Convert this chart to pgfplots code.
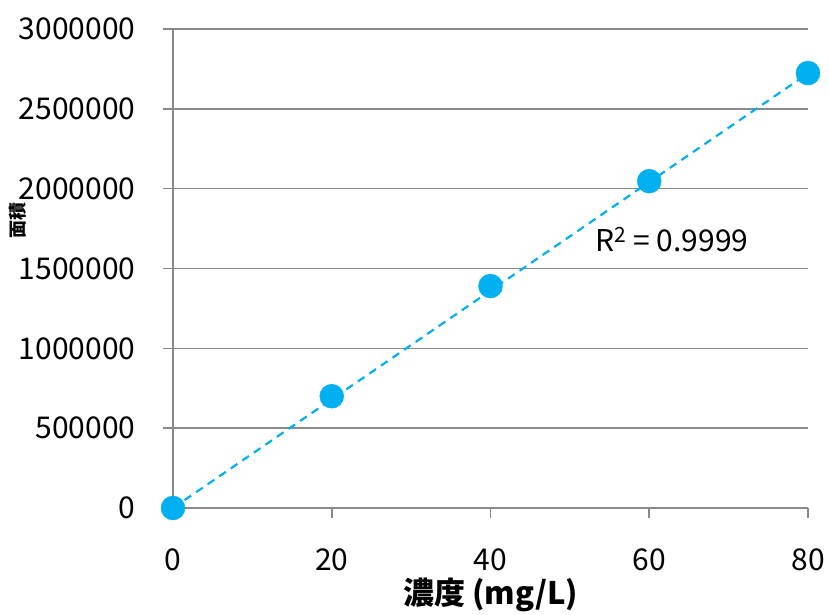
\documentclass[border=0pt]{standalone}
\usepackage{pgfplots}
\pgfplotsset{compat=1.18}
\usepackage{fontspec}
\setmainfont{Noto Sans CJK JP}
\definecolor{ptblue}{HTML}{00B0F0}
\definecolor{gridgray}{HTML}{898989}
\begin{document}
\begin{tikzpicture}
\begin{axis}[
  scale only axis,
  width=635pt, height=479pt,
  xmin=0, xmax=80, ymin=0, ymax=3000000,
  xtick={0,20,40,60,80},
  ytick={0,500000,1000000,1500000,2000000,2500000,3000000},
  scaled y ticks=false,
  /pgf/number format/.cd, fixed, 1000 sep={}, assume math mode=true,
  /pgfplots/.cd,
  axis x line=bottom, axis y line=left,
  axis line style={gridgray, line width=1.6pt, -},
  tick style={gridgray, line width=1.6pt},
  tick align=outside, major tick length=10pt,
  ymajorgrids, grid style={gridgray, line width=1.6pt},
  ticklabel style={font=\fontsize{30}{35}\selectfont, text=black},
  xticklabel style={yshift=-27pt},
  yticklabel style={xshift=-24pt},
  xlabel={\bfseries 濃度 (mg/L)},
  xlabel style={font=\fontsize{31}{36}\selectfont, yshift=0pt},
  ylabel={\bfseries 面積},
  ylabel style={font=\fontsize{18}{22}\selectfont, at={(axis description cs:0,0.60)}, yshift=155pt, anchor=center},
  clip=false,
]
\addplot[ptblue, line width=2.2pt, dash pattern=on 8pt off 6pt] coordinates {(0,0) (80,2722000)};
\addplot[only marks, mark=*, mark size=12pt, mark options={fill=ptblue, draw=ptblue}] coordinates {
(0,0) (20,700000) (40,1390000) (60,2047000) (80,2724000)};
\node[anchor=west, font=\fontsize{30}{35}\selectfont] at (axis cs:52.8,1680000) {R$^{\mathrm{2}}$ = 0.9999};
\path (rel axis cs:0,0) ++(-173pt,-101pt);
\path (rel axis cs:1,1) ++(21pt,29pt);
\end{axis}
\end{tikzpicture}
\end{document}
